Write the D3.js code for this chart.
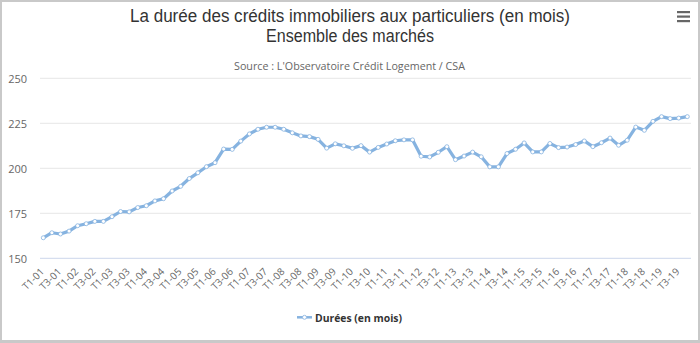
<!DOCTYPE html>
<html><head><meta charset="utf-8">
<script src="https://cdn.jsdelivr.net/npm/d3@7"></script>
<style>html,body{margin:0;padding:0;background:#fff}svg{display:block}</style>
</head><body><svg id="c" width="700" height="343"></svg>
<script>
const years = ["01","02","03","04","05","06","07","08","09","10","11","12","13","14","15","16","17","18","19"];
const quarters = ["T1","T2","T3","T4"];
const categories = [];
years.forEach(y => quarters.forEach(q => categories.push(q + "-" + y)));
const durees = [
  161.4,164.2,163.5,165.1, 168.1,169.2,170.5,170.5, 173.1,176.0,175.8,178.2, 179.2,181.9,183.1,187.4,
  190.0,194.3,197.5,200.9, 203.1,210.7,210.5,215.1, 219.1,221.7,222.8,222.8, 221.7,219.7,218.0,217.6,
  216.1,211.2,213.6,212.5, 211.1,212.6,209.0,211.6, 213.5,215.3,215.8,215.8, 206.7,206.3,208.9,212.0,
  204.8,206.8,209.0,206.4, 200.8,200.8,208.2,210.6, 214.1,209.1,209.1,213.8, 211.5,211.8,213.2,215.2,
  212.0,214.2,216.8,212.8, 215.6,222.9,221.1,226.1, 228.7,227.6,227.9,228.7
];
const yTicks = [150,175,200,225,250];
const titleLines = ["La durée des crédits immobiliers aux particuliers (en mois)", "Ensemble des marchés"];
const subtitleText = "Source : L'Observatoire Crédit Logement / CSA";
const seriesName = "Durées (en mois)";

const W = 700, H = 343;
const plot = {left: 40, right: 691, top: 78.3, bottom: 258.3};
const lineColor = "#86b3e0";
const font = "'Open Sans', 'Noto Sans', sans-serif";
const titleFont = "'Liberation Sans', Arial, sans-serif";
const svg = d3.select("#c");

// frame
svg.append("rect").attr("x",0).attr("y",0).attr("width",W).attr("height",H).attr("fill","#c9c9c9");
svg.append("rect").attr("x",2).attr("y",2).attr("width",W-4).attr("height",H-5).attr("fill","#fff");

// titles
const tl = [{t:titleLines[0], y:21.5, len:440},{t:titleLines[1], y:41.5, len:168}];
tl.forEach(d => svg.append("text").attr("x",350).attr("y",d.y).attr("text-anchor","middle")
  .attr("font-family",titleFont).attr("font-size",17.5).attr("fill","#333")
  .attr("textLength",d.len).attr("lengthAdjust","spacingAndGlyphs").text(d.t));
svg.append("text").attr("x",349.5).attr("y",69.5).attr("text-anchor","middle")
  .attr("font-family",font).attr("font-size",11.5).attr("fill","#666")
  .attr("textLength",231).attr("lengthAdjust","spacingAndGlyphs").text(subtitleText);

// menu icon
[0,1,2].forEach(i => svg.append("rect").attr("x",677).attr("y",11+i*4.5).attr("width",13).attr("height",2.2).attr("fill","#666"));

const x = d3.scalePoint().domain(categories).range([43.3, 687.3]);
const y = d3.scaleLinear().domain([150,250]).range([plot.bottom, plot.top]);

// gridlines
svg.append("g").selectAll("line").data(yTicks).join("line")
  .attr("x1",plot.left).attr("x2",plot.right)
  .attr("y1",d=>y(d)).attr("y2",d=>y(d))
  .attr("stroke",d=>d===150?"#ccd6eb":"#e6e6e6").attr("stroke-width",1);

// y labels
const yAxis = d3.axisLeft(y).tickValues(yTicks).tickSize(0).tickPadding(0);
const gy = svg.append("g").attr("transform",`translate(27,0)`).call(yAxis);
gy.select(".domain").remove();
gy.selectAll("text").attr("font-family",font).attr("font-size",11).attr("fill","#666").attr("dy","0.35em");

// x labels
const labelCats = categories.filter(c => c.startsWith("T1") || c.startsWith("T3"));
const xAxis = d3.axisBottom(x).tickValues(labelCats).tickSize(0).tickPadding(0);
const gx = svg.append("g").attr("transform",`translate(0,${plot.bottom})`).call(xAxis);
gx.select(".domain").remove();
gx.selectAll(".tick text")
  .attr("font-family",font).attr("font-size",10).attr("fill","#666")
  .attr("text-anchor","end").attr("dy",null).attr("y",null)
  .attr("transform","translate(1,14) rotate(-45)");

// line
const line = d3.line().x((d,i)=>x(categories[i])).y(d=>y(d));
svg.append("path").datum(durees).attr("d",line).attr("fill","none")
  .attr("stroke",lineColor).attr("stroke-width",3.2).attr("stroke-linejoin","round");
svg.append("g").selectAll("circle").data(durees).join("circle")
  .attr("cx",(d,i)=>x(categories[i])).attr("cy",d=>y(d)).attr("r",2)
  .attr("fill","#fff").attr("stroke",lineColor).attr("stroke-width",0.8);

// legend
svg.append("line").attr("x1",297).attr("x2",312).attr("y1",317.3).attr("y2",317.3)
  .attr("stroke",lineColor).attr("stroke-width",2.5);
svg.append("circle").attr("cx",304.5).attr("cy",317.3).attr("r",2).attr("fill","#fff").attr("stroke",lineColor).attr("stroke-width",0.8);
svg.append("text").attr("x",315).attr("y",321.5).attr("font-family",font).attr("font-weight","bold")
  .attr("font-size",11).attr("fill","#333").attr("textLength",87).attr("lengthAdjust","spacingAndGlyphs").text(seriesName);
</script></body></html>
